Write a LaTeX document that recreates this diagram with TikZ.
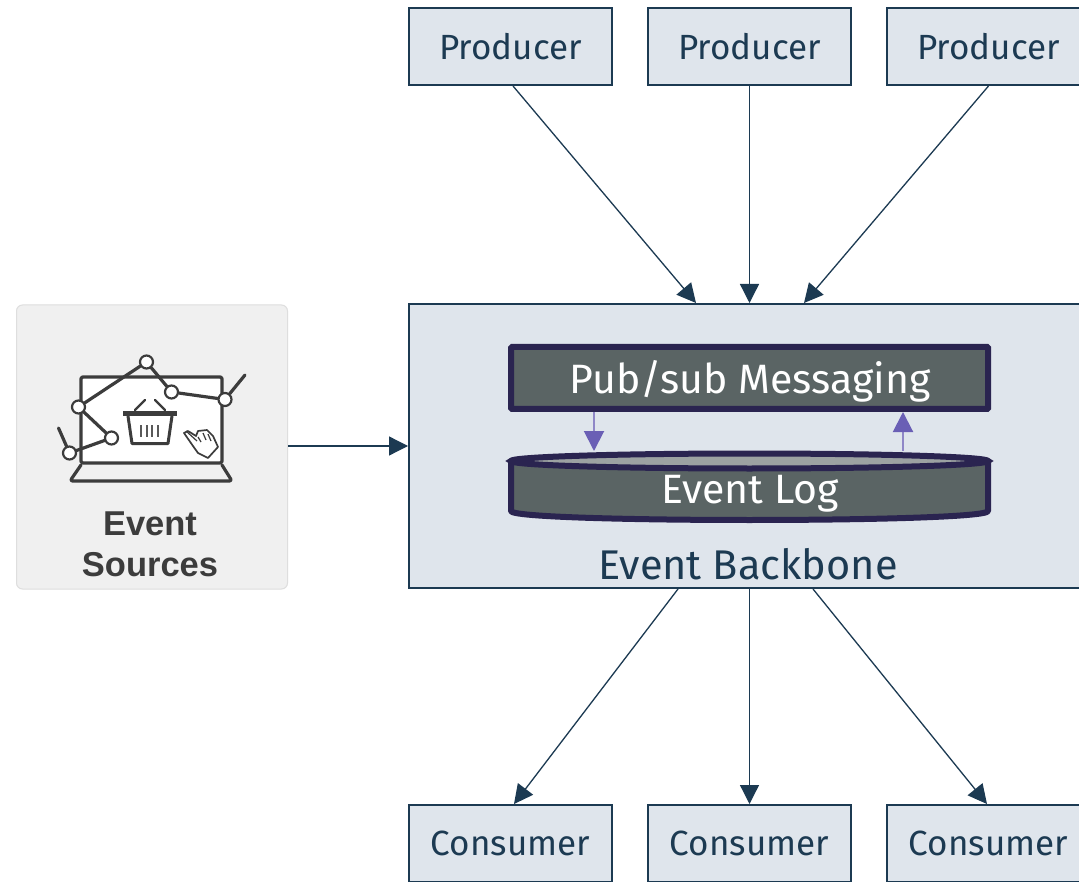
\documentclass[tikz,border=0pt]{standalone}
\usepackage{fontspec}
\setmainfont{Fira Sans}
\newfontfamily\iconfont{Liberation Sans}
\usetikzlibrary{arrows.meta}
\definecolor{ink}{HTML}{1C3A52}
\definecolor{boxfill}{HTML}{DFE5EC}
\definecolor{indigo}{HTML}{2A2450}
\definecolor{slatefill}{HTML}{5A6464}
\definecolor{violet}{HTML}{6A5FB5}
\definecolor{icondark}{HTML}{3C3C3C}
\tikzset{
  x=1pt,y=-1pt,
  boxstyle/.style={draw=ink,fill=boxfill,line width=2pt,minimum width=203pt,minimum height=77pt,inner sep=0pt,text=ink,font=\fontsize{35}{40}\selectfont},
  flow/.style={draw=ink,line width=1.3pt,-{Triangle[length=19pt,width=19pt]}},
  pflow/.style={draw=violet!75,line width=2pt,-{Triangle[length=20pt,width=20pt,color=violet]}},
  white label/.style={text=white,inner sep=0pt,font=\fontsize{41}{46}\selectfont},
  dot/.style={circle,draw=icondark,fill=white,line width=2.2pt,minimum size=13pt,inner sep=0pt},
  iconline/.style={draw=icondark,line width=3.2pt,line join=round,line cap=round},
}
\begin{document}
\begin{tikzpicture}
\useasboundingbox (0,0) rectangle (1079,882);
\clip (0,0) rectangle (1079,882);
\fill[white] (0,0) rectangle (1079,882);
% producers
\node[boxstyle] (p1) at (510.5,46.5) {Producer};
\node[boxstyle] (p2) at (749.5,46.5) {Producer};
\node[boxstyle] (p3) at (988.5,46.5) {Producer};
% backbone
\node[draw=ink,fill=boxfill,line width=2pt,minimum width=676pt,minimum height=284pt,inner sep=0pt] (bb) at (747,446) {};
\node[text=ink,inner sep=0pt,font=\fontsize{41.5}{46}\selectfont] (bbl) at (748,564) {Event Backbone};
% consumers
\node[boxstyle] (c1) at (510.5,843.5) {Consumer};
\node[boxstyle] (c2) at (749.5,843.5) {Consumer};
\node[boxstyle] (c3) at (988.5,843.5) {Consumer};
% source box
\node[draw=black!13,fill=black!6,rounded corners=6pt,line width=1pt,minimum width=271pt,minimum height=284pt,inner sep=0pt] (src) at (152,447) {};
\node[text=icondark,inner sep=0pt,align=center,font=\iconfont\bfseries\fontsize{34.5}{41}\selectfont] (srcl) at (150,544.5) {Event\\Sources};
% connectors
\coordinate (t1) at (696,303);
\coordinate (t3) at (804,303);
\coordinate (b1) at (678,589);
\coordinate (b3) at (813,589);
\draw[flow] ([xshift=2.5pt]p1.south) -- (t1);
\draw[flow] (p2.south) -- (p2.south |- bb.north);
\draw[flow] (p3.south) -- (t3);
\draw[flow] (b1) -- ([xshift=3.5pt]c1.north);
\draw[flow] (p2.south |- bb.south) -- (c2.north);
\draw[flow] (b3) -- ([xshift=-1.5pt]c3.north);
\draw[flow] (src.east |- bb.west) -- (bb.west);
% pub/sub
\node[draw=indigo,fill=slatefill,line width=6pt,minimum width=477pt,minimum height=62pt,inner sep=0pt,rounded corners=1pt] (pub) at (749.5,378) {};
\node[white label] (publ) at (750,381) {Pub/sub Messaging};
% event log
\path[draw=indigo,fill=slatefill,line width=6pt,line join=round] (511,461) -- (511,511) .. controls (511,523) and (988,523) .. (988,511) -- (988,461) -- cycle;
\draw[indigo,fill=slatefill!60!white,line width=6pt] (749.5,461) ellipse [x radius=238.5,y radius=7.5];
\node[white label] (logl) at (750,494) {Event Log};
\coordinate (ld) at (594,451);
\coordinate (lu) at (903,451);
\draw[pflow] (pub.south -| ld) -- (ld);
\draw[pflow] (lu) -- (pub.south -| lu);
% laptop icon
\draw[iconline,fill=white,rounded corners=1.5pt] (81,377) rectangle (222,463);
\draw[iconline,rounded corners=2.5pt] (81,465) -- (70,481) -- (232,481) -- (222,465);
\node[dot] (n1) at (146.5,362) {};
\node[dot] (n2) at (171.5,392) {};
\node[dot] (n3) at (225,399.5) {};
\node[dot] (n4) at (78.5,407) {};
\node[dot] (n5) at (111.5,438) {};
\node[dot] (n6) at (69.5,453) {};
\coordinate (e1) at (245,375);
\coordinate (e2) at (58.5,428);
\draw[iconline] (n6) -- (e2);
\draw[iconline] (n6) -- (n5);
\draw[iconline] (n5) -- (n4);
\draw[iconline] (n4) -- (n1);
\draw[iconline] (n1) -- (n2);
\draw[iconline] (n2) -- (n3);
\draw[iconline] (n3) -- (e1);
% basket
\draw[icondark,line width=5pt] (123,413.5) -- (177,413.5);
\draw[iconline,line width=3pt] (128,416) -- (132,443.5) -- (168,443.5) -- (172,416);
\draw[iconline,line width=2.4pt] (135,410) -- (145,400);
\draw[iconline,line width=2.4pt] (165,410) -- (155,400);
\foreach \bx in {141,146.5,152,157.5} \draw[icondark!85,line width=2pt] (\bx,425) -- (\bx,437);
% hand
\draw[icondark,line width=1.7pt,line join=round] (184,433) -- (188,431) -- (196,436) -- (198,431) -- (207,430) -- (213,436) -- (218,447) -- (208,458) -- (198,453) -- (193,446) -- cycle;
\draw[icondark,line width=1.2pt] (186,431) -- (197,441);
\draw[icondark,line width=1.2pt] (198,437) -- (201,442) (203,433) -- (206,440) (208,434) -- (211,441);
\end{tikzpicture}
\end{document}
